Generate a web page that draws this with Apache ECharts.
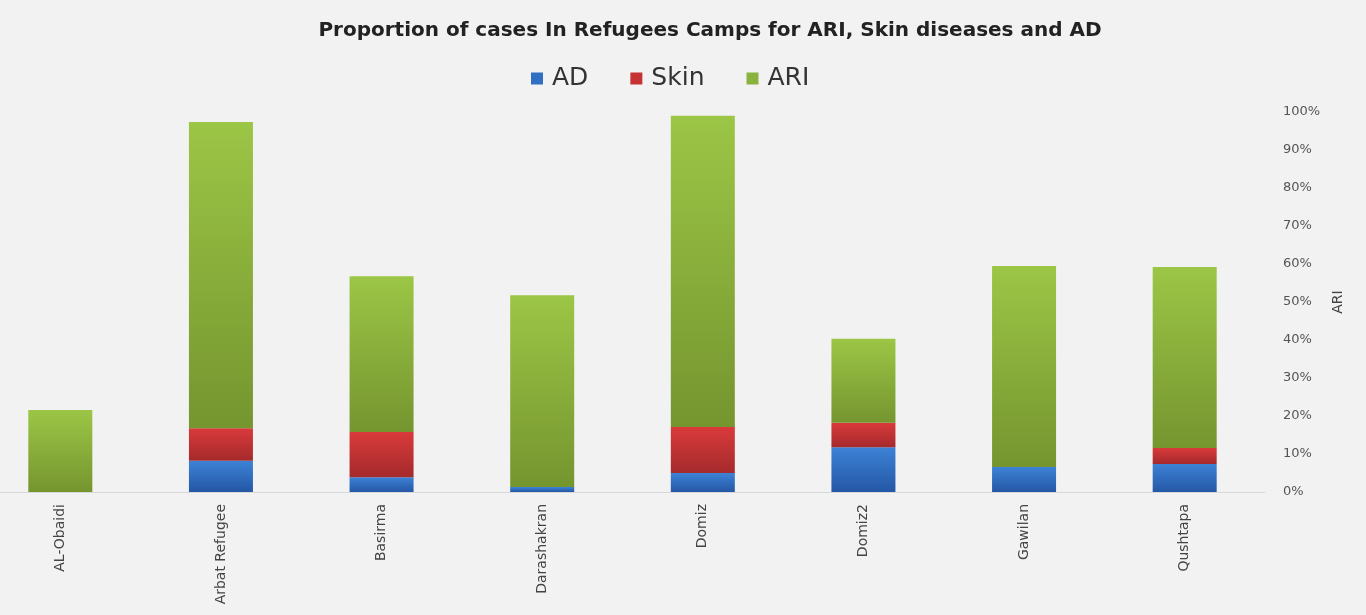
<!DOCTYPE html>
<html><head><meta charset="utf-8">
<script src="https://cdn.jsdelivr.net/npm/echarts@6/dist/echarts.min.js"></script>
<style>html,body{margin:0;padding:0;background:#f2f2f2;}#c{width:1366px;height:615px;}</style>
</head><body><div id="c"></div>
<script>
const categories = ['AL-Obaidi','Arbat Refugee','Basirma','Darashakran','Domiz','Domiz2','Gawilan','Qushtapa'];
const adValues   = [0, 8.2, 3.9, 1.3, 5.0, 11.8, 6.6, 7.4];
const skinValues = [0, 8.6, 11.9, 0, 12.1, 6.4, 0, 4.2];
const ariValues  = [21.6, 80.6, 41.0, 50.5, 81.9, 22.1, 52.9, 47.6];
const yTicks = [0,10,20,30,40,50,60,70,80,90,100];

function grad(top, bottom){
  return new echarts.graphic.LinearGradient(0,0,0,1,[{offset:0,color:top},{offset:1,color:bottom}]);
}
const chart = echarts.init(document.getElementById('c'));
chart.setOption({
  backgroundColor:'#f2f2f2',
  animation:false,
  title:{text:'Proportion of cases In Refugees Camps for ARI, Skin diseases and AD',left:705,textAlign:'center',top:16,
    textStyle:{fontFamily:'DejaVu Sans',fontWeight:'bold',fontSize:20,color:'#222'}},
  legend:{top:61,left:526,itemWidth:12,itemHeight:12,itemGap:42,icon:'rect',
    textStyle:{fontFamily:'DejaVu Sans',fontSize:25,color:'#333',padding:[0,0,0,4]},
    data:[{name:'AD',itemStyle:{color:'#2f6fc4'}},{name:'Skin',itemStyle:{color:'#c63234'}},{name:'ARI',itemStyle:{color:'#8ab23e'}}]},
  grid:{left:-20,right:101,top:112,bottom:123,outerBoundsMode:'none',containLabel:false},
  xAxis:{type:'category',data:categories,
    axisLine:{lineStyle:{color:'#d9d9d9'}},axisTick:{show:false},
    axisLabel:{rotate:90,fontFamily:'DejaVu Sans',fontSize:14,color:'#444',margin:12}},
  yAxis:{type:'value',position:'right',min:0,max:100,interval:10,
    name:'ARI',nameLocation:'middle',nameRotate:90,nameGap:66,
    nameTextStyle:{fontFamily:'DejaVu Sans',fontSize:14,color:'#444'},
    splitLine:{show:false},axisLine:{show:false},axisTick:{show:false},
    axisLabel:{formatter:v=>yTicks.includes(v)?v+'%':'',fontFamily:'DejaVu Sans',fontSize:13,color:'#555',margin:18}},
  series:[
    {name:'AD',type:'bar',stack:'s',data:adValues,barWidth:64,itemStyle:{color:grad('#3d82d6','#2457a5')}},
    {name:'Skin',type:'bar',stack:'s',data:skinValues,barWidth:64,itemStyle:{color:grad('#d93a3b','#a52a2c')}},
    {name:'ARI',type:'bar',stack:'s',data:ariValues,barWidth:64,itemStyle:{color:grad('#9cc646','#75952f')}}
  ]
});
</script></body></html>
